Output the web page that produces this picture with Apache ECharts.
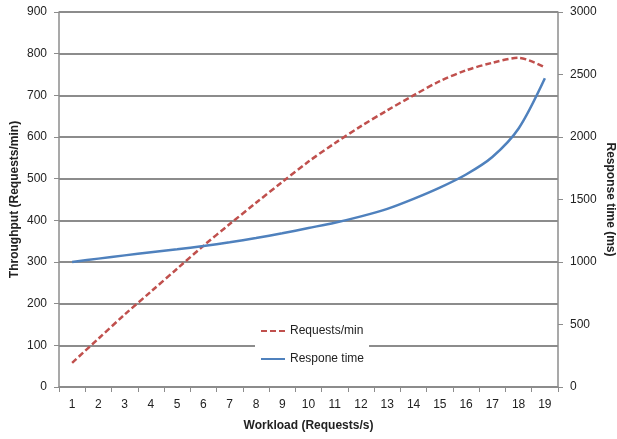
<!DOCTYPE html>
<html><head><meta charset="utf-8">
<script src="https://cdn.jsdelivr.net/npm/echarts@6/dist/echarts.min.js"></script>
<style>html,body{margin:0;padding:0;background:#fff}#c{width:617px;height:439px}</style>
</head><body><div id="c"></div>
<script>
const categories = ['1','2','3','4','5','6','7','8','9','10','11','12','13','14','15','16','17','18','19'];
const requestsPerMin = [58,116,174,229,284,339,391,442,492,541,585,626,664,700,734,760,778,790,767];
const responseTime = [1000,1027,1053,1078,1102,1128,1158,1192,1230,1272,1314,1365,1425,1505,1595,1700,1840,2068,2470];
const leftTicks = {min:0, max:900, interval:100};
const rightTicks = {min:0, max:3000, interval:500};

const font = 'Liberation Sans';
const gray = '#8c8c8c';
const chart = echarts.init(document.getElementById('c'), null, {renderer:'canvas'});
chart.setOption({
  animation:false,
  backgroundColor:'#fff',
  textStyle:{fontFamily:font},
  grid:{left:59, right:59, top:12, bottom:52, containLabel:false, outerBoundsMode:'none'},
  legend:{
    orient:'vertical', left:255, top:318,
    backgroundColor:'#fff', padding:[7,5,8,5],
    itemWidth:24, itemHeight:14, itemGap:16,
    itemStyle:{opacity:0},
    textStyle:{fontFamily:font, fontSize:12, color:'#222'},
    data:['Requests/min','Respone time']
  },
  xAxis:{
    type:'category', data:categories, boundaryGap:true,
    name:'Workload (Requests/s)', nameLocation:'middle', nameGap:33, nameMoveOverlap:false,
    nameTextStyle:{fontFamily:font, fontWeight:'bold', fontSize:12, color:'#222'},
    axisLine:{lineStyle:{color:gray, width:1.5}},
    axisTick:{show:true, alignWithLabel:false, length:5, lineStyle:{color:gray}},
    axisLabel:{fontFamily:font, fontSize:12, color:'#222', margin:12},
    splitLine:{show:false}
  },
  yAxis:[{
    type:'value', min:leftTicks.min, max:leftTicks.max, interval:leftTicks.interval, position:'left',
    name:'Throughput (Requests/min)', nameLocation:'middle', nameGap:38, nameRotate:90, nameMoveOverlap:false,
    nameTextStyle:{fontFamily:font, fontWeight:'bold', fontSize:12, color:'#222'},
    axisLine:{show:true, lineStyle:{color:gray, width:1.5}},
    axisTick:{show:true, length:5, lineStyle:{color:gray}},
    axisLabel:{fontFamily:font, fontSize:12, color:'#222', margin:12},
    splitLine:{show:true, lineStyle:{color:gray, width:2}}
  },{
    type:'value', min:rightTicks.min, max:rightTicks.max, interval:rightTicks.interval, position:'right',
    name:'Response time (ms)', nameLocation:'middle', nameGap:46, nameRotate:-90, nameMoveOverlap:false,
    nameTextStyle:{fontFamily:font, fontWeight:'bold', fontSize:12, color:'#222'},
    axisLine:{show:true, lineStyle:{color:gray, width:1.5}},
    axisTick:{show:true, length:5, lineStyle:{color:gray}},
    axisLabel:{fontFamily:font, fontSize:12, color:'#222', margin:12, formatter:(v)=>String(v)},
    splitLine:{show:false}
  }],
  series:[{
    name:'Requests/min', type:'line', yAxisIndex:0, data:requestsPerMin,
    smooth:0.3, symbol:'none', z:3,
    itemStyle:{color:'#C0504D'},
    lineStyle:{color:'#C0504D', width:2.5, type:[6,3]}
  },{
    name:'Respone time', type:'line', yAxisIndex:1, data:responseTime,
    smooth:0.3, symbol:'none', z:3,
    itemStyle:{color:'#4F81BD'},
    lineStyle:{color:'#4F81BD', width:2.5}
  }]
});
</script></body></html>
